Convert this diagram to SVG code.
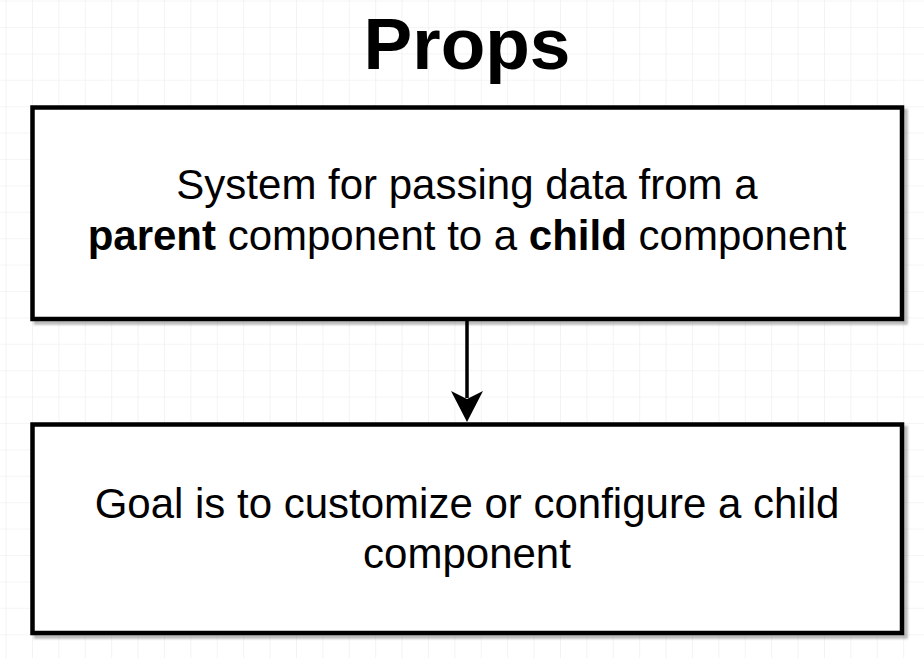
<svg xmlns="http://www.w3.org/2000/svg" width="924" height="658" viewBox="0 0 924 658">
  <defs>
    <pattern id="grid" x="5.6" y="0.6" width="26.4" height="26.4" patternUnits="userSpaceOnUse">
      <path d="M 0 0 L 0 26.4 M 0 0 L 26.4 0" fill="none" stroke="#ececec" stroke-width="1.2"/>
    </pattern>
    <filter id="shadow" x="-5%" y="-5%" width="110%" height="115%">
      <feGaussianBlur stdDeviation="1.2"/>
    </filter>
    <marker id="arrow" viewBox="0 0 32 32" markerWidth="32" markerHeight="32" refX="16" refY="32" markerUnits="userSpaceOnUse" orient="auto-start-reverse">
      <path d="M 16 32 L 0 2 L 16 9 L 32 2 Z" fill="#000"/>
    </marker>
  </defs>
  <style>
    .box { fill: #ffffff; stroke: #000000; stroke-width: 4.5; }
    .shadow { fill: none; stroke: #808080; stroke-width: 4.5; opacity: 0.55; }
    .txt { font-family: "Liberation Sans", Arial, Helvetica, sans-serif; font-size: 42px; fill: #000; text-anchor: middle; }
    .title { font-family: "Liberation Sans", Arial, Helvetica, sans-serif; font-size: 73px; font-weight: bold; fill: #000; text-anchor: middle; }
    .b { font-weight: bold; }
  </style>
  <rect width="924" height="658" fill="#ffffff"/>
  <rect width="924" height="658" fill="url(#grid)"/>

  <g id="title">
    <text class="title" x="467" y="69">Props</text>
  </g>

  <g id="node-system">
    <rect class="shadow" x="36" y="111" width="869.5" height="211.5" filter="url(#shadow)"/>
    <rect class="box" x="32.5" y="107.5" width="869.5" height="211.5"/>
    <text class="txt" x="467" y="199">System for passing data from a</text>
    <text class="txt" x="467" y="250"><tspan class="b">parent</tspan> component to a <tspan class="b">child</tspan> component</text>
  </g>

  <g id="node-goal">
    <rect class="shadow" x="36" y="428" width="869.5" height="208.5" filter="url(#shadow)"/>
    <rect class="box" x="32.5" y="424.5" width="869.5" height="208.5"/>
    <text class="txt" x="467" y="518">Goal is to customize or configure a child</text>
    <text class="txt" x="467" y="568">component</text>
  </g>

  <g id="connectors">
    <line x1="467" y1="321" x2="467" y2="398" stroke="#000" stroke-width="3.5"/>
    <path d="M 467 422 L 451 391 L 467 399 L 483 391 Z" fill="#000"/>
  </g>
</svg>
